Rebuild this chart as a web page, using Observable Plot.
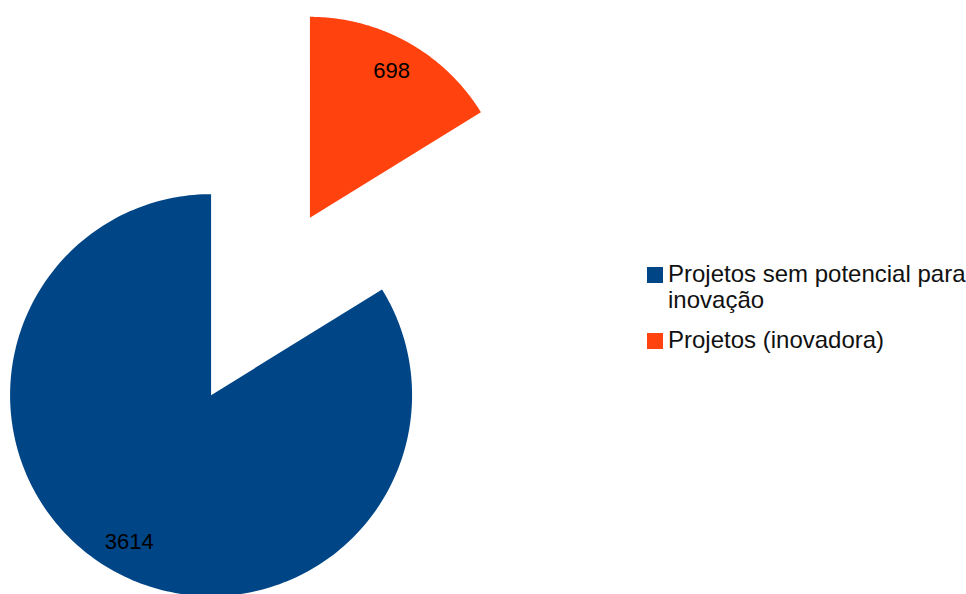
<!DOCTYPE html>
<html>
<head>
<meta charset="utf-8">
<script src="https://cdn.jsdelivr.net/npm/d3@7"></script>
<script src="https://cdn.jsdelivr.net/npm/@observablehq/plot@0.6"></script>
<style>
  html, body { margin: 0; padding: 0; background: #fff; overflow: hidden; }
  #wrap { position: relative; width: 966px; height: 594px; font-family: "Liberation Sans", Arial, sans-serif; }
  #legend { position: absolute; left: 647px; top: 261px; font-size: 24px; color: #111; line-height: 26px; white-space: nowrap; }
  .item { position: relative; padding-left: 21px; margin-bottom: 14px; }
  .sw { position: absolute; left: 0; top: 6px; width: 16px; height: 16px; }
</style>
</head>
<body>
<div id="wrap"></div>
<script>
const categories = ["Projetos sem potencial para inovação", "Projetos (inovadora)"];
const legendLines = [["Projetos sem potencial para", "inovação"], ["Projetos (inovadora)"]];
const values = [3614, 698];
const colors = ["#004586", "#ff420e"];

// layout
const W = 966, H = 594;
const cx = 260, cy = 306, R = 201, explode = 101.5, labelR = 168;

const total = d3.sum(values);
let cum = 0;
const slices = values.map((v, i) => {
  const a0 = -cum / total * 2 * Math.PI;
  cum += v;
  const a1 = -cum / total * 2 * Math.PI;
  const m = (a0 + a1) / 2;
  const vx = cx + explode * Math.sin(m), vy = cy - explode * Math.cos(m);
  return {i, v, a0, a1, m, vx, vy, cat: categories[i], color: colors[i]};
});

const pts = [];
for (const s of slices) {
  const n = 240;
  pts.push({x: s.vx, y: s.vy, color: s.color, cat: s.cat});
  for (let k = 0; k <= n; k++) {
    const a = s.a0 + (s.a1 - s.a0) * k / n;
    pts.push({x: s.vx + R * Math.sin(a), y: s.vy - R * Math.cos(a), color: s.color, cat: s.cat});
  }
  pts.push({x: s.vx, y: s.vy, color: s.color, cat: s.cat});
}

const labels = slices.map(s => ({
  x: s.vx + labelR * Math.sin(s.m),
  y: s.vy - labelR * Math.cos(s.m),
  text: String(s.v)
}));

const chart = Plot.plot({
  width: W, height: H,
  margin: 0,
  x: {domain: [0, W], range: [0, W], axis: null},
  y: {domain: [0, H], range: [0, H], axis: null},
  color: {type: "identity"},
  style: {fontFamily: "Liberation Sans, Arial, sans-serif", background: "#fff"},
  marks: [
    Plot.line(pts, {x: "x", y: "y", z: "cat", fill: "color", stroke: "none", curve: "linear"}),
    Plot.text(labels, {x: "x", y: "y", text: "text", fontSize: 22, fill: "#000", textAnchor: "middle", lineAnchor: "middle"})
  ]
});
const wrap = document.getElementById("wrap");
chart.style.position = "absolute";
chart.style.left = "0"; chart.style.top = "0";
wrap.appendChild(chart);

const legend = document.createElement("div");
legend.id = "legend";
categories.forEach((c, i) => {
  const it = document.createElement("div");
  it.className = "item";
  const sw = document.createElement("span");
  sw.className = "sw";
  sw.style.background = colors[i];
  it.appendChild(sw);
  legendLines[i].forEach((ln, j) => {
    if (j) it.appendChild(document.createElement("br"));
    it.appendChild(document.createTextNode(ln));
  });
  legend.appendChild(it);
});
wrap.appendChild(legend);
</script>
</body>
</html>
